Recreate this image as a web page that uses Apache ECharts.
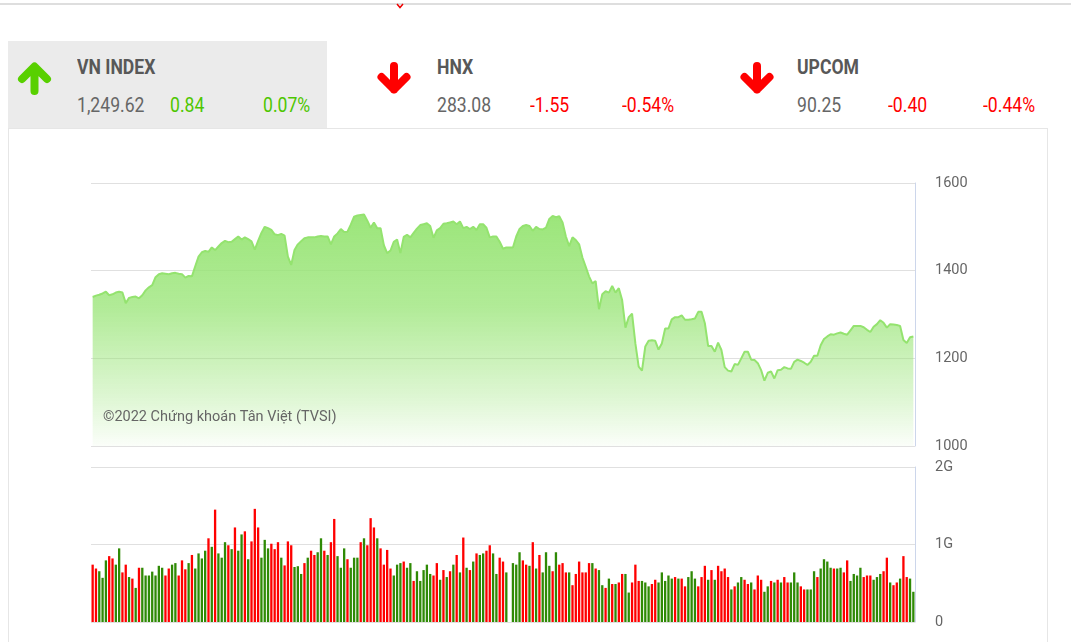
<!DOCTYPE html>
<html><head><meta charset="utf-8">
<script src="https://cdn.jsdelivr.net/npm/echarts@6/dist/echarts.min.js"></script>
<style>
html,body{margin:0;padding:0;width:1071px;height:642px;overflow:hidden;background:#fff;font-family:Roboto,sans-serif}
.abs{position:absolute}
.t{position:absolute;white-space:nowrap;line-height:20px;font-size:20px;transform:scaleX(0.88);transform-origin:0 0;color:#666}
.ttl{font-weight:bold;color:#585858}
.up{color:#4ec600}
.dn{color:#f00}
</style></head><body>
<div class="abs" style="left:0;top:3px;width:1071px;height:2px;background:#dedede"></div>
<svg class="abs" style="left:394px;top:3px" width="12" height="6"><polyline points="3,1 6,4.5 9,1" fill="none" stroke="#e00" stroke-width="1.5"/></svg>
<div class="abs" style="left:8px;top:41px;width:319px;height:87px;background:#ebebeb"></div>
<div class="abs" style="left:8px;top:128px;width:1038px;height:520px;border:1px solid #e6e6e6;border-bottom:none"></div>
<svg class="abs" style="left:0;top:0" width="1071" height="130">
  <path d="M34.5 91 V68 M22 79 L34.5 66.5 L47 79" stroke="#58d000" stroke-width="8" stroke-linecap="round" stroke-linejoin="round" fill="none"/>
  <path d="M394 66 V89.5 M381.5 77 L394 89.5 L406.5 77" stroke="#f00" stroke-width="8" stroke-linecap="round" stroke-linejoin="round" fill="none"/>
  <path d="M757 66 V89.5 M744.5 77 L757 89.5 L769.5 77" stroke="#f00" stroke-width="8" stroke-linecap="round" stroke-linejoin="round" fill="none"/>
</svg>
<div class="t ttl" style="left:77px;top:57px">VN INDEX</div>
<div class="t" style="left:77px;top:95px">1,249.62</div>
<div class="t up" style="left:170px;top:95px">0.84</div>
<div class="t up" style="left:263px;top:95px">0.07%</div>
<div class="t ttl" style="left:437px;top:57px">HNX</div>
<div class="t" style="left:437px;top:95px">283.08</div>
<div class="t dn" style="left:530px;top:95px">-1.55</div>
<div class="t dn" style="left:622px;top:95px">-0.54%</div>
<div class="t ttl" style="left:797px;top:57px">UPCOM</div>
<div class="t" style="left:797px;top:95px">90.25</div>
<div class="t dn" style="left:888px;top:95px">-0.40</div>
<div class="t dn" style="left:983px;top:95px">-0.44%</div>
<div id="chart" style="position:absolute;left:0;top:0;width:1071px;height:642px"></div>
<script>
// VN-Index closing values, one per session
const indexValues = [
1340,1343,1345,1348,1352,1344,1346,1350,1352,1350,
1326,1338,1340,1341,1337,1344,1355,1362,1367,1385,
1392,1394,1393,1392,1394,1395,1393,1392,1384,1388,
1387,1410,1432,1442,1445,1443,1453,1447,1455,1463,
1468,1465,1466,1472,1478,1471,1476,1472,1467,1448,
1468,1486,1500,1497,1493,1483,1481,1484,1480,1432,
1413,1447,1460,1467,1474,1476,1476,1476,1478,1479,
1478,1478,1460,1478,1485,1495,1488,1489,1505,1523,
1526,1527,1528,1514,1498,1510,1497,1497,1458,1440,
1446,1466,1471,1440,1477,1482,1476,1486,1496,1504,
1506,1508,1502,1475,1492,1497,1507,1508,1510,1512,
1506,1512,1497,1500,1495,1500,1493,1506,1506,1498,
1476,1478,1478,1466,1450,1453,1453,1453,1478,1495,
1502,1504,1502,1491,1500,1495,1494,1498,1518,1525,
1522,1524,1510,1478,1456,1476,1470,1460,1430,1409,
1387,1371,1376,1312,1346,1353,1350,1365,1350,1360,
1333,1270,1294,1302,1234,1181,1172,1227,1240,1241,
1240,1220,1234,1268,1268,1289,1294,1294,1298,1288,
1288,1289,1291,1306,1306,1280,1228,1228,1215,1236,
1219,1180,1172,1170,1187,1185,1200,1215,1215,1197,
1196,1189,1173,1149,1167,1170,1154,1173,1174,1180,
1177,1176,1192,1197,1194,1190,1185,1192,1206,1206,
1230,1244,1250,1255,1254,1257,1259,1256,1254,1264,
1274,1274,1274,1271,1265,1260,1272,1278,1287,1281,
1270,1278,1277,1276,1274,1242,1235,1248,1249.62];

// Traded volume per session, in G
const volumes = [
.74,.69,.655,.57,.795,.85,.82,.74,.95,.64,
.74,.58,.56,.44,.70,.70,.60,.60,.65,.60,
.725,.70,.60,.69,.74,.76,.60,.795,.68,.76,
.865,.69,.885,.82,.92,1.08,.97,1.45,.885,.83,
1.03,.99,.94,1.22,.92,1.13,1.17,.81,1.04,1.46,
1.22,.83,1.06,.95,1.01,.94,1.03,.83,.73,1.04,
.99,.71,.72,.62,.76,.83,.92,.865,.90,1.08,
.92,.865,1.03,1.33,.85,.70,.95,.81,.70,.83,
.83,1.03,1.08,.99,1.34,1.22,1.08,.95,.74,.93,
.69,.60,.74,.76,.78,.70,.76,.53,.655,.53,
.67,.74,.62,.60,.76,.545,.67,.58,.655,.74,
.865,.64,1.09,.70,.67,.78,.885,.865,.885,.92,
.99,.885,.62,.83,.78,.64,0,.76,.74,.90,
.795,.74,.725,1.03,.69,.865,.64,.90,.725,.655,
.90,.74,.76,.64,.64,.475,.62,.78,.64,.64,
.76,.76,.69,.67,.475,.44,.56,.49,.49,.51,
.62,.62,.38,.51,.74,.53,.53,.51,.46,.49,
.545,.51,.64,.53,.60,.56,.58,.56,.56,.46,
.58,.655,.56,.46,.58,.725,.545,.67,.545,.725,
.655,.69,.58,.42,.46,.51,.58,.545,.49,.51,
.42,.60,.545,.39,.46,.53,.51,.545,.51,.58,
.51,.51,.64,.51,.46,.42,.42,.42,.655,.58,
.69,.81,.78,.70,.69,.69,.70,.64,.795,.53,
.62,.60,.70,.58,.60,.60,.545,.58,.62,.655,
.83,.51,.475,.51,.56,.85,.58,.56,.39];

// Session direction for volume colour: d = down (red), u = up (green), 10 sessions per group
const directions = [
'dduuudduud','dududuuuuu','uudduudddu','duuuududuu','ududuududd',
'duuudddudd','duuududduu','dudduuuduu','ududdduddd','duuuduuduu',
'uuuddududu','dudududuud','duudduuuuu','ddududuuud','uddduddddd',
'duduududud','duuddduuud','duuuuududd','uuudddudud','ddduduuddu',
'ddduududud','duuudduuud','uuuuduuddu','uuudddduuud'.replace('dddd','ddd'),'duddudduu'
].join('').split('');

const priceTicks = {min: 1000, max: 1600, step: 200};
const volumeTickLabels = ['0', '1G', '2G'];
const creditText = '©2022 Chứng khoán Tân Việt (TVSI)';
const sessions = indexValues.map((_, i) => String(i + 1));

const RED = '#ff0000', GREEN = '#2f8a05';
const labelFont = 'Roboto, sans-serif';

const chart = echarts.init(document.getElementById('chart'));
chart.setOption({
  animation: false,
  title: {
    text: creditText, left: 103, top: 410, padding: 0,
    textStyle: {fontFamily: 'Roboto', fontSize: 14.5, fontWeight: 'normal', color: '#666'}
  },
  grid: [
    {left: 91, top: 183, width: 824, height: 263},
    {left: 91, top: 467, width: 824, height: 155}
  ],
  xAxis: [
    {type: 'category', gridIndex: 0, data: sessions, boundaryGap: true, show: false},
    {type: 'category', gridIndex: 1, data: sessions, boundaryGap: true, show: false}
  ],
  yAxis: [
    {type: 'value', gridIndex: 0, position: 'right', min: priceTicks.min, max: priceTicks.max, interval: priceTicks.step,
     axisLine: {show: true, lineStyle: {color: '#ccd6eb'}}, axisTick: {show: false},
     splitLine: {lineStyle: {color: '#e0e0e0'}},
     axisLabel: {margin: 20, color: '#666', fontSize: 14.5, fontFamily: labelFont, formatter: v => String(v)}},
    {type: 'value', gridIndex: 1, position: 'right', min: 0, max: 2, interval: 1,
     axisLine: {show: true, lineStyle: {color: '#ccd6eb'}}, axisTick: {show: false},
     splitLine: {lineStyle: {color: '#e0e0e0'}},
     axisLabel: {margin: 20, color: '#666', fontSize: 14.5, fontFamily: labelFont,
                 formatter: v => volumeTickLabels[Math.round(v)]}}
  ],
  series: [
    {type: 'line', xAxisIndex: 0, yAxisIndex: 0, data: indexValues, symbol: 'none',
     lineStyle: {color: '#94e36f', width: 2},
     areaStyle: {opacity: 1, color: new echarts.graphic.LinearGradient(0, 0, 0, 1, [
       {offset: 0, color: 'rgba(150,228,115,0.95)'},
       {offset: 0.4, color: 'rgba(150,228,115,0.74)'},
       {offset: 0.8, color: 'rgba(150,228,115,0.3)'},
       {offset: 1, color: 'rgba(150,228,115,0.04)'}
     ])}},
    {type: 'bar', xAxisIndex: 1, yAxisIndex: 1, barCategoryGap: '30%',
     data: volumes.map((v, i) => ({value: v, itemStyle: {color: directions[i] === 'd' ? RED : GREEN}}))}
  ]
});
</script>
</body></html>
